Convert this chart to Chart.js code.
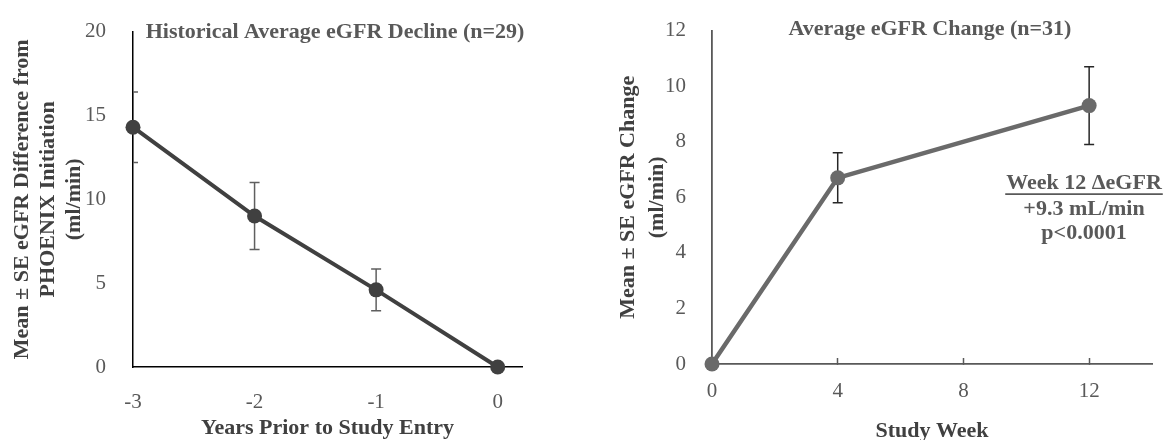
<!DOCTYPE html>
<html>
<head>
<meta charset="utf-8">
<script src="https://cdn.jsdelivr.net/npm/chart.js@4.4.1/dist/chart.umd.min.js"></script>
<style>
  html, body { margin: 0; padding: 0; background: #ffffff; }
  #wrap { position: relative; width: 1169px; height: 440px; overflow: hidden; }
  canvas { position: absolute; top: 0; }
  #c1 { left: 0; }
  #c2 { left: 585px; }
</style>
</head>
<body>
<div id="wrap">
  <canvas id="c1" width="585" height="440"></canvas>
  <canvas id="c2" width="584" height="440"></canvas>
</div>
<script>
// ---------- data ----------
const histYears = [-3, -2, -1, 0];
const histMean  = [14.3, 9.0, 4.6, 0];
const histSE    = [2.1, 2.0, 1.25, 0];

const studyWeeks = [0, 4, 12];
const weekMean   = [0, 6.7, 9.3];
const weekSE     = [0, 0.9, 1.4];

const leftXTicks  = [-3, -2, -1, 0];
const leftYTicks  = [0, 5, 10, 15, 20];
const rightXTicks = [0, 4, 8, 12];
const rightYTicks = [0, 2, 4, 6, 8, 10, 12];

const leftTitle  = 'Historical Average eGFR Decline (n=29)';
const rightTitle = 'Average eGFR Change (n=31)';
const leftYTitle = ['Mean \u00B1 SE eGFR Difference from', 'PHOENIX Initiation', '(ml/min)'];
const leftXTitle = 'Years Prior to Study Entry';
const rightYTitle = ['Mean \u00B1 SE eGFR Change', '(ml/min)'];
const rightXTitle = 'Study Week';
const noteLines = ['Week 12 \u0394eGFR', '+9.3 mL/min', 'p<0.0001'];

// ---------- setup ----------
const SERIF = "'Liberation Serif', 'Times New Roman', serif";
Chart.defaults.font.family = SERIF;
Chart.defaults.animation = false;

const errorBars = {
  id: 'errorBars',
  beforeDatasetsDraw(chart, args, opts) {
    const { ctx, chartArea, scales: { x, y } } = chart;
    const pts = chart.data.datasets[0].data;
    ctx.save();
    ctx.beginPath();
    ctx.rect(chartArea.left, chartArea.top - 20, chartArea.right - chartArea.left, chartArea.bottom - chartArea.top + 20);
    ctx.clip();
    ctx.strokeStyle = opts.color;
    ctx.lineWidth = opts.width;
    pts.forEach((p, i) => {
      const e = opts.se[i];
      if (!e) return;
      const px = x.getPixelForValue(p.x);
      const top = y.getPixelForValue(p.y + e);
      const bot = y.getPixelForValue(p.y - e);
      ctx.beginPath();
      ctx.moveTo(px, top); ctx.lineTo(px, bot);
      ctx.moveTo(px - opts.cap, top); ctx.lineTo(px + opts.cap, top);
      ctx.moveTo(px - opts.cap, bot); ctx.lineTo(px + opts.cap, bot);
      ctx.stroke();
    });
    ctx.restore();
  }
};

const overlayText = {
  id: 'overlayText',
  afterDraw(chart, args, opts) {
    const { ctx, chartArea } = chart;
    ctx.save();
    ctx.textAlign = 'center';
    ctx.textBaseline = 'middle';
    (opts.items || []).forEach(it => {
      ctx.font = it.font;
      ctx.fillStyle = it.color;
      const cx = it.fromRight != null ? chartArea.right - it.fromRight : (chartArea.left + chartArea.right) / 2 + (it.dx || 0);
      const cy = chartArea.top + it.dy;
      ctx.fillText(it.text, cx, cy);
      if (it.underline) {
        const w = ctx.measureText(it.text).width;
        ctx.strokeStyle = it.color;
        ctx.lineWidth = 1.6;
        ctx.beginPath();
        ctx.moveTo(cx - w / 2 - 1, cy + 10.5);
        ctx.lineTo(cx + w / 2 + 1, cy + 10.5);
        ctx.stroke();
      }
    });
    ctx.restore();
  }
};

function fixedTicks(arr) {
  return s => { s.ticks = arr.map(v => ({ value: v })); };
}

const tickFont = { size: 21 };

// ---------- left chart ----------
new Chart(document.getElementById('c1'), {
  type: 'line',
  data: {
    datasets: [{
      data: histYears.map((x, i) => ({ x, y: histMean[i] })),
      borderColor: '#404040',
      backgroundColor: '#404040',
      borderWidth: 4,
      pointRadius: 7.5,
      pointHoverRadius: 7.5,
      pointBorderWidth: 0,
      clip: false,
      tension: 0
    }]
  },
  options: {
    responsive: false,
    layout: { padding: { left: 0, right: 63, top: 22, bottom: 0 } },
    plugins: {
      legend: { display: false },
      tooltip: { enabled: false },
      errorBars: { se: histSE, color: '#5f5f5f', width: 1.5, cap: 5 },
      overlayText: { items: [
        { text: leftTitle, font: 'bold 22px ' + SERIF, color: '#595959', dy: 0.5, dx: 7.5 }
      ] }
    },
    scales: {
      x: {
        type: 'linear', min: -3, max: 0.2,
        afterBuildTicks: fixedTicks(leftXTicks),
        afterFit: s => { s.height = 73; },
        grid: { display: false },
        border: { display: true, color: '#000000', width: 1.5 },
        ticks: { font: tickFont, color: '#595959', padding: 15, maxRotation: 0 },
        title: { display: true, text: leftXTitle, font: { size: 22, weight: 'bold', lineHeight: 26/22 }, color: '#404040', padding: { top: 0, bottom: -1 } }
      },
      y: {
        type: 'linear', min: 0, max: 20,
        afterBuildTicks: fixedTicks(leftYTicks),
        afterFit: s => { s.width = 133; },
        grid: { display: false },
        border: { display: true, color: '#000000', width: 1.5 },
        ticks: { font: tickFont, color: '#595959', padding: 19 },
        title: { display: true, text: leftYTitle, font: { size: 22, weight: 'bold', lineHeight: 26/22 }, color: '#404040', padding: { top: 9, bottom: 0 } }
      }
    }
  },
  plugins: [errorBars, overlayText]
});

// ---------- right chart ----------
new Chart(document.getElementById('c2'), {
  type: 'line',
  data: {
    datasets: [{
      data: studyWeeks.map((x, i) => ({ x, y: weekMean[i] })),
      borderColor: '#6a6a6a',
      backgroundColor: '#6a6a6a',
      borderWidth: 4.5,
      pointRadius: 7.5,
      pointHoverRadius: 7.5,
      pointBorderWidth: 0,
      clip: false,
      tension: 0
    }]
  },
  options: {
    responsive: false,
    layout: { padding: { left: 0, right: 17, top: 24, bottom: 0 } },
    plugins: {
      legend: { display: false },
      tooltip: { enabled: false },
      errorBars: { se: weekSE, color: '#262626', width: 1.5, cap: 5 },
      overlayText: { items: [
        { text: rightTitle, font: 'bold 22px ' + SERIF, color: '#595959', dy: -1.5, dx: -2 },
        { text: noteLines[0], font: 'bold 22px ' + SERIF, color: '#595959', dy: 153, fromRight: 68, underline: true },
        { text: noteLines[1], font: 'bold 22px ' + SERIF, color: '#595959', dy: 179, fromRight: 68 },
        { text: noteLines[2], font: 'bold 22px ' + SERIF, color: '#595959', dy: 203, fromRight: 68 }
      ] }
    },
    scales: {
      x: {
        type: 'linear', min: 0, max: 14,
        afterBuildTicks: fixedTicks(rightXTicks),
        afterFit: s => { s.height = 76; },
        grid: { display: true, drawOnChartArea: false, drawTicks: true, tickLength: -6, tickColor: '#595959', tickWidth: 1.5 },
        border: { display: true, color: '#595959', width: 1.8 },
        ticks: { font: tickFont, color: '#595959', padding: 21, maxRotation: 0 },
        title: { display: true, text: rightXTitle, font: { size: 22, weight: 'bold', lineHeight: 26/22 }, color: '#404040', padding: { top: 0, bottom: -4 } }
      },
      y: {
        type: 'linear', min: 0, max: 12,
        afterBuildTicks: fixedTicks(rightYTicks),
        afterFit: s => { s.width = 127; },
        grid: { display: false },
        border: { display: true, color: '#595959', width: 1.8 },
        ticks: { font: tickFont, color: '#595959', padding: 18 },
        title: { display: true, text: rightYTitle, font: { size: 22, weight: 'bold', lineHeight: 29/22 }, color: '#404040', padding: { top: 29, bottom: 0 } }
      }
    }
  },
  plugins: [errorBars, overlayText]
});
</script>
</body>
</html>
